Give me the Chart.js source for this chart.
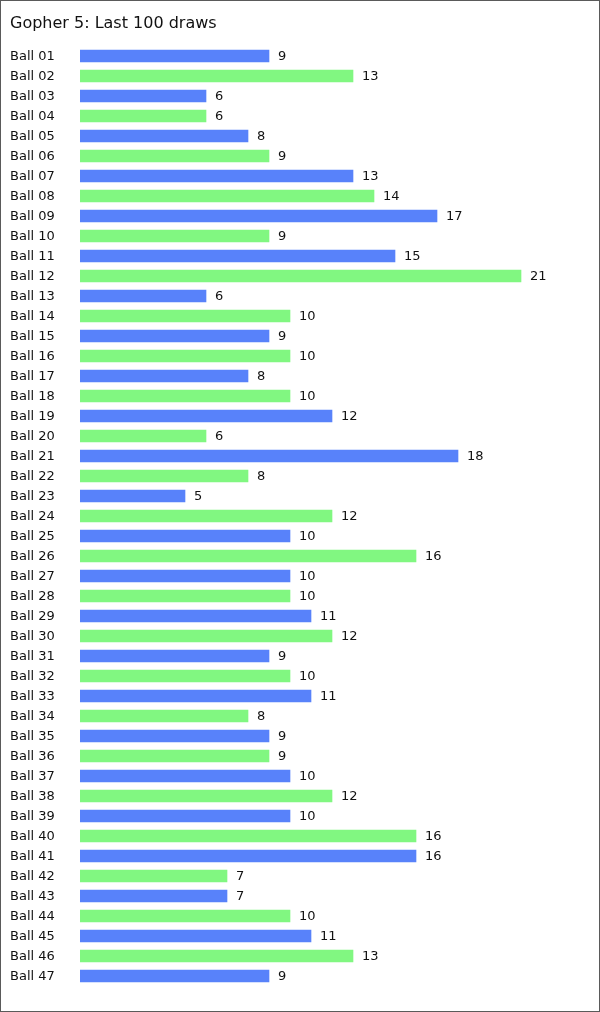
<!DOCTYPE html>
<html>
<head>
<meta charset="utf-8">
<script src="https://cdn.jsdelivr.net/npm/chart.js@4"></script>
<style>
  body { margin: 0; background: #fff; }
  #wrap { width: 600px; height: 1012px; position: relative; }
</style>
</head>
<body>
<div id="wrap"><canvas id="chart" width="600" height="1012"></canvas></div>
<script>
// data
const title = "Gopher 5: Last 100 draws";
const balls = [];
for (let i = 1; i <= 47; i++) balls.push("Ball " + String(i).padStart(2, "0"));
const hits = [9, 13, 6, 6, 8, 9, 13, 14, 17, 9, 15, 21, 6, 10, 9, 10, 8, 10, 12, 6,
              18, 8, 5, 12, 10, 16, 10, 10, 11, 12, 9, 10, 11, 8, 9, 9, 10, 12, 10, 16,
              16, 7, 7, 10, 11, 13, 9];
const colours = ["#5882FA", "#81F781"];

const font = "DejaVu Sans, Verdana, sans-serif";

// values at bar ends + frame
const extras = {
  id: "extras",
  afterDatasetsDraw(chart) {
    const ctx = chart.ctx;
    const meta = chart.getDatasetMeta(0);
    ctx.save();
    ctx.font = "13px " + font;
    ctx.fillStyle = "#111";
    ctx.textAlign = "left";
    ctx.textBaseline = "middle";
    meta.data.forEach((bar, i) => {
      ctx.fillText(String(hits[i]), bar.x + 9, bar.y + 1);
    });
    ctx.restore();
  },
  afterDraw(chart) {
    const ctx = chart.ctx;
    ctx.save();
    ctx.strokeStyle = "#5a5a5a";
    ctx.lineWidth = 1;
    ctx.strokeRect(0.5, 0.5, chart.width - 1, chart.height - 1);
    ctx.restore();
  }
};

new Chart(document.getElementById("chart"), {
  type: "bar",
  data: {
    labels: balls,
    datasets: [{
      data: hits,
      backgroundColor: hits.map((v, i) => colours[i % 2]),
      barThickness: 12
    }]
  },
  options: {
    indexAxis: "y",
    responsive: false,
    animation: false,
    layout: { padding: { left: 10, right: 16, top: 0, bottom: 26 } },
    plugins: {
      legend: { display: false },
      tooltip: { enabled: false },
      title: {
        display: true,
        text: title,
        align: "start",
        color: "#111",
        font: { family: font, size: 16, weight: "normal" },
        padding: { top: 14.4, bottom: 12.4 }
      }
    },
    scales: {
      x: { display: false, min: 0, max: 24 },
      y: {
        grid: { display: false },
        border: { display: false },
        afterFit(scale) { scale.width = 70; },
        ticks: {
          crossAlign: "far",
          autoSkip: false,
          padding: 0,
          labelOffset: 1,
          color: "#111",
          font: { family: font, size: 13 }
        }
      }
    }
  },
  plugins: [extras]
});
</script>
</body>
</html>
